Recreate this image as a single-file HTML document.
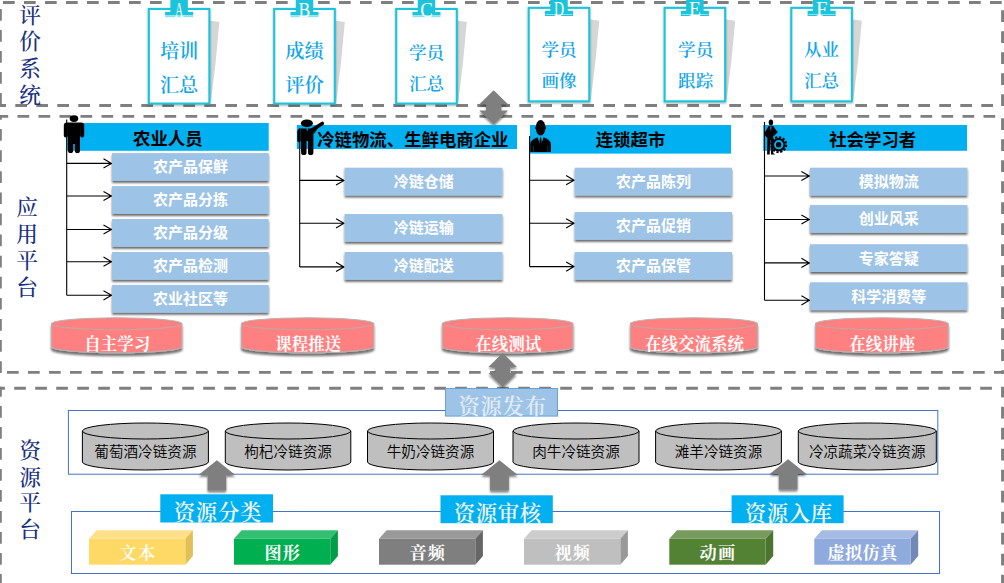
<!DOCTYPE html>
<html lang="zh-CN"><head><meta charset="utf-8"><title>冷链资源平台架构</title>
<style>
html,body{margin:0;padding:0;background:#fff;}
body{width:1004px;height:583px;overflow:hidden;}
svg{display:block;}
.sans{font-family:"Liberation Sans", "Noto Sans CJK SC", sans-serif;}
.serif{font-family:"Liberation Serif", "Noto Serif CJK SC", serif;}
.side{font-size:21.7px;font-weight:500;fill:#17307F;text-anchor:middle;}
.hdr{font-size:17.4px;font-weight:700;fill:#000;}
.sub{font-size:15px;font-weight:700;fill:#fff;text-anchor:middle;}
.cyl{font-size:16.5px;font-weight:700;fill:#fff;text-anchor:middle;}
.res{font-size:14.6px;font-weight:350;fill:#000;text-anchor:middle;}
.lab{font-size:21.3px;font-weight:600;fill:#F4F4F4;text-anchor:middle;}
.cube{font-size:17.2px;font-weight:700;fill:#fff;text-anchor:middle;letter-spacing:1px;}
.card{font-size:17.6px;fill:#12A6EC;text-anchor:middle;}
.tab{font-size:20.5px;fill:#fff;text-anchor:middle;}
</style></head><body>
<svg width="1004" height="583" viewBox="0 0 1004 583">
<defs>
<filter id="shB" x="-10%" y="-20%" width="120%" height="150%"><feGaussianBlur in="SourceAlpha" stdDeviation="1"/><feOffset dx="0" dy="2" result="o"/><feComponentTransfer><feFuncA type="linear" slope="0.6"/></feComponentTransfer><feMerge><feMergeNode/><feMergeNode in="SourceGraphic"/></feMerge></filter>
<filter id="shC" x="-10%" y="-20%" width="120%" height="150%"><feGaussianBlur in="SourceAlpha" stdDeviation="1.3"/><feOffset dx="0" dy="2.5" result="o"/><feComponentTransfer><feFuncA type="linear" slope="0.55"/></feComponentTransfer><feMerge><feMergeNode/><feMergeNode in="SourceGraphic"/></feMerge></filter>
<filter id="shK" x="-15%" y="-10%" width="130%" height="120%"><feGaussianBlur in="SourceAlpha" stdDeviation="1.2"/><feOffset dx="0" dy="0.5" result="o"/><feComponentTransfer><feFuncA type="linear" slope="0.35"/></feComponentTransfer><feMerge><feMergeNode/><feMergeNode in="SourceGraphic"/></feMerge></filter>
<filter id="shA" x="-20%" y="-20%" width="140%" height="140%"><feGaussianBlur in="SourceAlpha" stdDeviation="1.2"/><feOffset dx="0" dy="2" result="o"/><feComponentTransfer><feFuncA type="linear" slope="0.5"/></feComponentTransfer><feMerge><feMergeNode/><feMergeNode in="SourceGraphic"/></feMerge></filter>
</defs>
<line x1="3" y1="2.45" x2="1004" y2="2.45" stroke="#7F7F7F" stroke-width="2.9" stroke-dasharray="11.7 9.3" stroke-dashoffset="0"/>
<line x1="0.35" y1="9" x2="0.35" y2="107" stroke="#7F7F7F" stroke-width="2.9" stroke-dasharray="11.7 9.3" stroke-dashoffset="0"/>
<line x1="1002.55" y1="10.2" x2="1002.55" y2="107" stroke="#7F7F7F" stroke-width="2.9" stroke-dasharray="11.7 9.3" stroke-dashoffset="0"/>
<line x1="-5.7" y1="105.5" x2="1000" y2="105.5" stroke="#7F7F7F" stroke-width="2.9" stroke-dasharray="11.7 9.3" stroke-dashoffset="0"/>
<line x1="-3.5" y1="116.4" x2="996" y2="116.4" stroke="#7F7F7F" stroke-width="2.9" stroke-dasharray="11.7 9.3" stroke-dashoffset="0"/>
<line x1="0.35" y1="115" x2="0.35" y2="373.8" stroke="#7F7F7F" stroke-width="2.9" stroke-dasharray="11.7 9.4" stroke-dashoffset="7"/>
<line x1="1002.55" y1="118.3" x2="1002.55" y2="373.8" stroke="#7F7F7F" stroke-width="2.9" stroke-dasharray="11.7 9.3" stroke-dashoffset="0"/>
<line x1="7" y1="372.4" x2="1004" y2="372.4" stroke="#7F7F7F" stroke-width="2.9" stroke-dasharray="11.7 9.3" stroke-dashoffset="0"/>
<line x1="-6.8" y1="388.3" x2="992" y2="388.3" stroke="#7F7F7F" stroke-width="2.9" stroke-dasharray="11.7 9.3" stroke-dashoffset="0"/>
<line x1="0.35" y1="386.8" x2="0.35" y2="583" stroke="#7F7F7F" stroke-width="2.9" stroke-dasharray="11.7 9.3" stroke-dashoffset="1.8"/>
<line x1="1002.55" y1="386.8" x2="1002.55" y2="583" stroke="#7F7F7F" stroke-width="2.9" stroke-dasharray="11.7 9.3" stroke-dashoffset="1.1"/>
<text class="serif side" x="30" y="22.5">评</text>
<text class="serif side" x="30" y="49.2">价</text>
<text class="serif side" x="30" y="75.9">系</text>
<text class="serif side" x="30" y="102.6">统</text>
<text class="serif side" x="27.1" y="215.2">应</text>
<text class="serif side" x="27.1" y="241.9">用</text>
<text class="serif side" x="27.1" y="268.3">平</text>
<text class="serif side" x="27.1" y="295">台</text>
<text class="serif side" x="30" y="458.1">资</text>
<text class="serif side" x="30" y="484.6">源</text>
<text class="serif side" x="30" y="510.4">平</text>
<text class="serif side" x="30" y="536.8">台</text>
<polygon points="209.4,20.4 219.4,21.9 215.4,64.6 210.9,101.6 209.4,101.6" fill="#D6D6D6"/>
<rect x="148.85000000000002" y="8.950000000000001" width="60.5" height="94.60" fill="#fff" stroke="#1CC4DB" stroke-width="2.1" filter="url(#shK)"/>
<rect x="170.35" y="0" width="17.5" height="12.9" fill="#1CC4DB"/>
<rect x="165.10" y="11.90" width="28" height="3.4" fill="#1CC4DB"/>
<rect x="165.10" y="15.30" width="28" height="1.9" fill="#8FE2ED"/>
<text class="serif tab" x="179.10" y="16.80" transform="translate(179.10 0) scale(0.56 1) translate(-179.10 0)">A</text>
<text class="serif card" font-weight="600" style="font-size:19.2px" x="179.10" y="58.16">培训</text>
<text class="serif card" font-weight="600" style="font-size:19.2px" x="179.10" y="91.66">汇总</text>
<polygon points="334.8,20.4 344.8,21.9 340.8,64.6 336.3,101.6 334.8,101.6" fill="#D6D6D6"/>
<rect x="274.25" y="8.950000000000001" width="60.5" height="94.60" fill="#fff" stroke="#1CC4DB" stroke-width="2.1" filter="url(#shK)"/>
<rect x="295.75" y="0" width="17.5" height="12.9" fill="#1CC4DB"/>
<rect x="290.50" y="11.90" width="28" height="3.4" fill="#1CC4DB"/>
<rect x="290.50" y="15.30" width="28" height="1.9" fill="#8FE2ED"/>
<text class="serif tab" x="304.50" y="16.80" transform="translate(304.50 0) scale(0.86 1) translate(-304.50 0)">B</text>
<text class="serif card" font-weight="600" style="font-size:19.2px" x="304.50" y="58.16">成绩</text>
<text class="serif card" font-weight="600" style="font-size:19.2px" x="304.50" y="91.66">评价</text>
<polygon points="456.8,20.4 466.8,21.9 462.8,64.6 458.3,101.6 456.8,101.6" fill="#D6D6D6"/>
<rect x="396.25" y="8.950000000000001" width="60.5" height="94.60" fill="#fff" stroke="#1CC4DB" stroke-width="2.1" filter="url(#shK)"/>
<rect x="417.75" y="0" width="17.5" height="12.9" fill="#1CC4DB"/>
<rect x="412.50" y="11.90" width="28" height="3.4" fill="#1CC4DB"/>
<rect x="412.50" y="15.30" width="28" height="1.9" fill="#8FE2ED"/>
<text class="serif tab" x="426.50" y="16.80" transform="translate(426.50 0) scale(0.92 1) translate(-426.50 0)">C</text>
<text class="serif card" font-weight="600" style="font-size:17.6px" x="426.50" y="58.50">学员</text>
<text class="serif card" font-weight="600" style="font-size:17.6px" x="426.50" y="90.10">汇总</text>
<polygon points="589.3000000000001,19.3 599.3000000000001,20.8 595.3000000000001,62.400000000000006 590.8000000000001,99.4 589.3000000000001,99.4" fill="#D6D6D6"/>
<rect x="528.75" y="7.85" width="60.5" height="93.50" fill="#fff" stroke="#1CC4DB" stroke-width="2.1" filter="url(#shK)"/>
<rect x="550.25" y="0" width="17.5" height="11.8" fill="#1CC4DB"/>
<rect x="545.00" y="10.80" width="28" height="3.4" fill="#1CC4DB"/>
<rect x="545.00" y="14.20" width="28" height="1.8" fill="#1CC4DB"/>
<rect x="546.00" y="14.25" width="26" height="0.6" fill="#C9F1F6"/>
<text class="serif tab" x="559.00" y="15.70" transform="translate(559.00 0) scale(0.68 1) translate(-559.00 0)">D</text>
<text class="serif card" font-weight="600" style="font-size:17.6px" x="559.00" y="56.40">学员</text>
<text class="serif card" font-weight="600" style="font-size:17.6px" x="559.00" y="87.00">画像</text>
<polygon points="725.2,19.3 735.2,20.8 731.2,62.400000000000006 726.7,99.4 725.2,99.4" fill="#D6D6D6"/>
<rect x="664.65" y="7.85" width="60.5" height="93.50" fill="#fff" stroke="#1CC4DB" stroke-width="2.1" filter="url(#shK)"/>
<rect x="686.15" y="0" width="17.5" height="11.8" fill="#1CC4DB"/>
<rect x="680.90" y="10.80" width="28" height="3.4" fill="#1CC4DB"/>
<rect x="680.90" y="14.20" width="28" height="1.8" fill="#1CC4DB"/>
<rect x="681.90" y="14.25" width="26" height="0.6" fill="#C9F1F6"/>
<text class="serif tab" x="694.90" y="15.70" transform="translate(694.90 0) scale(0.95 1) translate(-694.90 0)">E</text>
<text class="serif card" font-weight="600" style="font-size:17.6px" x="695.70" y="56.40">学员</text>
<text class="serif card" font-weight="600" style="font-size:17.6px" x="695.70" y="87.00">跟踪</text>
<polygon points="851.9,19.3 861.9,20.8 857.9,62.400000000000006 853.4,99.4 851.9,99.4" fill="#D6D6D6"/>
<rect x="791.3499999999999" y="7.85" width="60.5" height="93.50" fill="#fff" stroke="#1CC4DB" stroke-width="2.1" filter="url(#shK)"/>
<rect x="812.85" y="0" width="17.5" height="11.8" fill="#1CC4DB"/>
<rect x="807.60" y="10.80" width="28" height="3.4" fill="#1CC4DB"/>
<rect x="807.60" y="14.20" width="28" height="1.8" fill="#1CC4DB"/>
<rect x="808.60" y="14.25" width="26" height="0.6" fill="#C9F1F6"/>
<text class="serif tab" x="821.60" y="15.70" transform="translate(821.60 0) scale(1.0 1) translate(-821.60 0)">F</text>
<text class="serif card" font-weight="600" style="font-size:17.6px" x="821.60" y="56.40">从业</text>
<text class="serif card" font-weight="600" style="font-size:17.6px" x="821.60" y="87.00">汇总</text>
<polygon points="493.7,90.3 508.0,104.3 501.3,104.3 501.3,110.6 508.0,110.6 493.7,124.6 479.4,110.6 486.1,110.6 486.1,104.3 479.4,104.3" fill="#7F7F7F" filter="url(#shA)"/>
<rect x="66.6" y="123" width="202.1" height="27.80000000000001" fill="#00B0F0"/>
<text class="sans hdr" text-anchor="middle" x="167.8" y="144.5">农业人员</text>
<line x1="66.7" y1="119.5" x2="66.7" y2="295.3" stroke="#000" stroke-width="1.1"/>
<path d="M66.7 163.4H111.5M103.5 158.8L111.5 163.4L103.5 168.0" fill="none" stroke="#000" stroke-width="1.1"/>
<rect x="112.1" y="153.1" width="156.6" height="27.8" fill="#9DC3E6" filter="url(#shB)"/>
<text class="sans sub" x="190.5" y="172.4">农产品保鲜</text>
<path d="M66.7 196H111.5M103.5 191.4L111.5 196L103.5 200.6" fill="none" stroke="#000" stroke-width="1.1"/>
<rect x="112.1" y="186.1" width="156.6" height="27.8" fill="#9DC3E6" filter="url(#shB)"/>
<text class="sans sub" x="190.5" y="205.4">农产品分拣</text>
<path d="M66.7 229.5H111.5M103.5 224.9L111.5 229.5L103.5 234.1" fill="none" stroke="#000" stroke-width="1.1"/>
<rect x="112.1" y="219.0" width="156.6" height="27.8" fill="#9DC3E6" filter="url(#shB)"/>
<text class="sans sub" x="190.5" y="238.3">农产品分级</text>
<path d="M66.7 261.7H111.5M103.5 257.09999999999997L111.5 261.7L103.5 266.3" fill="none" stroke="#000" stroke-width="1.1"/>
<rect x="112.1" y="252.0" width="156.6" height="27.8" fill="#9DC3E6" filter="url(#shB)"/>
<text class="sans sub" x="190.5" y="271.3">农产品检测</text>
<path d="M66.7 295.3H111.5M103.5 290.7L111.5 295.3L103.5 299.90000000000003" fill="none" stroke="#000" stroke-width="1.1"/>
<rect x="112.1" y="284.9" width="156.6" height="27.8" fill="#9DC3E6" filter="url(#shB)"/>
<text class="sans sub" x="190.5" y="304.2">农业社区等</text>
<rect x="296.8" y="125" width="220.2" height="24" fill="#00B0F0"/>
<text class="sans hdr" text-anchor="start" x="317.2" y="145.8">冷链物流、生鲜电商企业</text>
<line x1="299.7" y1="128" x2="299.7" y2="266.9" stroke="#000" stroke-width="1.1"/>
<path d="M299.7 180.4H344.0M336.0 175.8L344.0 180.4L336.0 185.0" fill="none" stroke="#000" stroke-width="1.1"/>
<rect x="344.6" y="167.7" width="157.89999999999998" height="27.8" fill="#9DC3E6" filter="url(#shB)"/>
<text class="sans sub" x="423.7" y="187.0">冷链仓储</text>
<path d="M299.7 223.3H344.0M336.0 218.70000000000002L344.0 223.3L336.0 227.9" fill="none" stroke="#000" stroke-width="1.1"/>
<rect x="344.6" y="214" width="157.89999999999998" height="27.8" fill="#9DC3E6" filter="url(#shB)"/>
<text class="sans sub" x="423.7" y="233.3">冷链运输</text>
<path d="M299.7 266.9H344.0M336.0 262.29999999999995L344.0 266.9L336.0 271.5" fill="none" stroke="#000" stroke-width="1.1"/>
<rect x="344.6" y="252" width="157.89999999999998" height="27.8" fill="#9DC3E6" filter="url(#shB)"/>
<text class="sans sub" x="423.7" y="271.3">冷链配送</text>
<rect x="530" y="125" width="201" height="28.599999999999994" fill="#00B0F0"/>
<text class="sans hdr" text-anchor="middle" x="630.5" y="146.2">连锁超市</text>
<line x1="529.6" y1="136" x2="529.6" y2="266.6" stroke="#000" stroke-width="1.1"/>
<path d="M529.6 180.2H574.1M566.1 175.6L574.1 180.2L566.1 184.79999999999998" fill="none" stroke="#000" stroke-width="1.1"/>
<rect x="574.7" y="167.7" width="157.29999999999995" height="27.8" fill="#9DC3E6" filter="url(#shB)"/>
<text class="sans sub" x="653.5" y="187.0">农产品陈列</text>
<path d="M529.6 223.3H574.1M566.1 218.70000000000002L574.1 223.3L566.1 227.9" fill="none" stroke="#000" stroke-width="1.1"/>
<rect x="574.7" y="212" width="157.29999999999995" height="27.8" fill="#9DC3E6" filter="url(#shB)"/>
<text class="sans sub" x="653.5" y="231.3">农产品促销</text>
<path d="M529.6 266.6H574.1M566.1 262.0L574.1 266.6L566.1 271.20000000000005" fill="none" stroke="#000" stroke-width="1.1"/>
<rect x="574.7" y="252" width="157.29999999999995" height="27.8" fill="#9DC3E6" filter="url(#shB)"/>
<text class="sans sub" x="653.5" y="271.3">农产品保管</text>
<rect x="763.2" y="125" width="203.79999999999995" height="25.80000000000001" fill="#00B0F0"/>
<text class="sans hdr" text-anchor="middle" x="872.7" y="145.6">社会学习者</text>
<line x1="764.5" y1="122" x2="764.5" y2="300.3" stroke="#000" stroke-width="1.1"/>
<path d="M764.5 176H809.4M801.4 171.4L809.4 176L801.4 180.6" fill="none" stroke="#000" stroke-width="1.1"/>
<rect x="810" y="167.7" width="157.39999999999998" height="27.8" fill="#9DC3E6" filter="url(#shB)"/>
<text class="sans sub" x="888.8" y="187.0">模拟物流</text>
<path d="M764.5 219.5H809.4M801.4 214.9L809.4 219.5L801.4 224.1" fill="none" stroke="#000" stroke-width="1.1"/>
<rect x="810" y="205" width="157.39999999999998" height="27.8" fill="#9DC3E6" filter="url(#shB)"/>
<text class="sans sub" x="888.8" y="224.3">创业风采</text>
<path d="M764.5 262.9H809.4M801.4 258.29999999999995L809.4 262.9L801.4 267.5" fill="none" stroke="#000" stroke-width="1.1"/>
<rect x="810" y="244.2" width="157.39999999999998" height="27.8" fill="#9DC3E6" filter="url(#shB)"/>
<text class="sans sub" x="888.8" y="263.5">专家答疑</text>
<path d="M764.5 300.3H809.4M801.4 295.7L809.4 300.3L801.4 304.90000000000003" fill="none" stroke="#000" stroke-width="1.1"/>
<rect x="810" y="282.3" width="157.39999999999998" height="27.8" fill="#9DC3E6" filter="url(#shB)"/>
<text class="sans sub" x="888.8" y="301.6">科学消费等</text>
<g fill="#000"><ellipse cx="74" cy="118.6" rx="4.3" ry="3.4"/><path d="M66.8 122.4h14.4a3 3 0 0 1 3 3v10a2 2 0 0 1-4.1 0v-9h-0.1v24a2.6 2.6 0 0 1-5.2 0v-13h-1.6v13a2.6 2.6 0 0 1-5.2 0v-24h-0.1v9a2 2 0 0 1-4.1 0v-10a3 3 0 0 1 3-3z"/><rect x="69" y="128" width="10" height="16"/></g>
<g fill="#000"><ellipse cx="306.9" cy="123.3" rx="6" ry="3.9"/><path d="M300.9 128.4H313.4V152.4a2.7 2.7 0 0 1-5.4 0V141h-1.5V152.4a2.7 2.7 0 0 1-5.4 0z"/><path d="M300.4 128.5c-1.9 0.2-3.1 1.5-3.1 3.2v8.8a1.7 1.7 0 0 0 3.4 0v-9z"/><path d="M311.5 130.2L322.3 123.4" stroke="#000" stroke-width="3.6" stroke-linecap="round"/><path d="M313.4 129.5l7-4.5-7 9.5z"/><path d="M306.2 128.4h1.9l-0.95 3.2z" fill="#00B0F0"/></g>
<g fill="#000"><ellipse cx="540.6" cy="127.7" rx="4.8" ry="7.7"/><rect x="535.2" y="126.5" width="10.8" height="3" rx="1.4"/><path d="M530.3 152v-7.5c0-3.5 3-5.5 7.4-7.2l2.9 8.5 2.9-8.5c4.4 1.7 7.4 3.7 7.4 7.2v7.5z"/><path d="M537.9 137.2l2.7 9 2.7-9z" fill="#00B0F0"/><path d="M540 137.6h1.2l0.8 6.5-1.4 2-1.4-2z"/><path d="M533.4 146v6M547.8 146v6" stroke="#0A5F80" stroke-width="0.6"/></g>
<g fill="#000"><ellipse cx="770.9" cy="122.5" rx="2.2" ry="3"/><path d="M768.6 126h4.6l4.5 6.2-3.6 3.6-0.6 0.2v-3l-0.3 5.5v14.5l2 1.6h-4.2l-0.3-14h-0.6l-0.4 14h-2.6l0.3-16.4-3.4-4.2z"/><path d="M770.2 126.4h1.4l-0.7 5.4z" fill="#00B0F0"/><circle cx="778.7" cy="144.7" r="6.7"/><circle cx="778.7" cy="144.7" r="7.5" fill="none" stroke="#000" stroke-width="2" stroke-dasharray="2.3 1.627"/><circle cx="778.7" cy="144.7" r="4.7" fill="#00B0F0"/><circle cx="778.6" cy="144.7" r="2.7"/></g>
<g filter="url(#shC)"><path d="M51.6 323.7A65.15 6 0 0 1 181.9 323.7V346.8A65.15 6 0 0 1 51.6 346.8Z" fill="#FF8080" stroke="#B8B0B0" stroke-width="1.1"/></g>
<path d="M51.6 323.7A65.15 6 0 0 0 181.9 323.7" fill="none" stroke="#BDA9A9" stroke-width="1.1"/>
<text class="serif cyl" x="117.25" y="349.5">自主学习</text>
<g filter="url(#shC)"><path d="M241.5 323.7A66.15 6 0 0 1 373.8 323.7V346.8A66.15 6 0 0 1 241.5 346.8Z" fill="#FF8080" stroke="#B8B0B0" stroke-width="1.1"/></g>
<path d="M241.5 323.7A66.15 6 0 0 0 373.8 323.7" fill="none" stroke="#BDA9A9" stroke-width="1.1"/>
<text class="serif cyl" x="308.15" y="349.5">课程推送</text>
<g filter="url(#shC)"><path d="M442.3 323.7A65.35 6 0 0 1 573 323.7V346.8A65.35 6 0 0 1 442.3 346.8Z" fill="#FF8080" stroke="#B8B0B0" stroke-width="1.1"/></g>
<path d="M442.3 323.7A65.35 6 0 0 0 573 323.7" fill="none" stroke="#BDA9A9" stroke-width="1.1"/>
<text class="serif cyl" x="508.15" y="349.5">在线测试</text>
<g filter="url(#shC)"><path d="M630.4 323.7A63.5 6 0 0 1 757.4 323.7V346.8A63.5 6 0 0 1 630.4 346.8Z" fill="#FF8080" stroke="#B8B0B0" stroke-width="1.1"/></g>
<path d="M630.4 323.7A63.5 6 0 0 0 757.4 323.7" fill="none" stroke="#BDA9A9" stroke-width="1.1"/>
<text class="serif cyl" x="694.4" y="349.5">在线交流系统</text>
<g filter="url(#shC)"><path d="M815.5 323.7A66.35000000000002 6 0 0 1 948.2 323.7V346.8A66.35000000000002 6 0 0 1 815.5 346.8Z" fill="#FF8080" stroke="#B8B0B0" stroke-width="1.1"/></g>
<path d="M815.5 323.7A66.35000000000002 6 0 0 0 948.2 323.7" fill="none" stroke="#BDA9A9" stroke-width="1.1"/>
<text class="serif cyl" x="882.35" y="349.5">在线讲座</text>
<polygon points="502.7,353.0 517.0,367.0 510.3,367.0 510.3,373.0 517.0,373.0 502.7,387.0 488.4,373.0 495.1,373.0 495.1,367.0 488.4,367.0" fill="#7F7F7F" filter="url(#shA)"/>
<rect x="68.4" y="410.5" width="869.4" height="63.7" fill="none" stroke="#4472C4" stroke-width="1"/>
<rect x="71.5" y="511.5" width="868" height="62" fill="none" stroke="#4472C4" stroke-width="1"/>
<path d="M82.4 431A63.0 8 0 0 1 208.4 431V462A63.0 8 0 0 1 82.4 462Z" fill="#BFBFBF" stroke="#000" stroke-width="1"/>
<path d="M82.4 431A63.0 8 0 0 0 208.4 431" fill="none" stroke="#000" stroke-width="1"/>
<text class="sans res" x="145.4" y="457.3">葡萄酒冷链资源</text>
<path d="M225.3 431A62.75 8 0 0 1 350.8 431V462A62.75 8 0 0 1 225.3 462Z" fill="#BFBFBF" stroke="#000" stroke-width="1"/>
<path d="M225.3 431A62.75 8 0 0 0 350.8 431" fill="none" stroke="#000" stroke-width="1"/>
<text class="sans res" x="288.05" y="457.3">枸杞冷链资源</text>
<path d="M367.5 431A63.0 8 0 0 1 493.5 431V462A63.0 8 0 0 1 367.5 462Z" fill="#BFBFBF" stroke="#000" stroke-width="1"/>
<path d="M367.5 431A63.0 8 0 0 0 493.5 431" fill="none" stroke="#000" stroke-width="1"/>
<text class="sans res" x="430.5" y="457.3">牛奶冷链资源</text>
<path d="M513 431A63.0 8 0 0 1 639 431V462A63.0 8 0 0 1 513 462Z" fill="#BFBFBF" stroke="#000" stroke-width="1"/>
<path d="M513 431A63.0 8 0 0 0 639 431" fill="none" stroke="#000" stroke-width="1"/>
<text class="sans res" x="576.0" y="457.3">肉牛冷链资源</text>
<path d="M655.6 431A62.89999999999998 8 0 0 1 781.4 431V462A62.89999999999998 8 0 0 1 655.6 462Z" fill="#BFBFBF" stroke="#000" stroke-width="1"/>
<path d="M655.6 431A62.89999999999998 8 0 0 0 781.4 431" fill="none" stroke="#000" stroke-width="1"/>
<text class="sans res" x="718.5" y="457.3">滩羊冷链资源</text>
<path d="M798.3 431A69.0 8 0 0 1 936.3 431V462A69.0 8 0 0 1 798.3 462Z" fill="#BFBFBF" stroke="#000" stroke-width="1"/>
<path d="M798.3 431A69.0 8 0 0 0 936.3 431" fill="none" stroke="#000" stroke-width="1"/>
<text class="sans res" x="867.3" y="457.3">冷凉蔬菜冷链资源</text>
<polygon points="216.9,460.3 235.3,475.1 226.2,475.1 226.2,490.5 207.6,490.5 207.6,475.1 198.5,475.1" fill="#7F7F7F" filter="url(#shA)"/>
<polygon points="499.5,460.3 517.9,475.1 508.9,475.1 508.9,490.5 490.1,490.5 490.1,475.1 481.1,475.1" fill="#7F7F7F" filter="url(#shA)"/>
<polygon points="788.1,459.3 806.5,473.9 797.5,473.9 797.5,489.6 778.8,489.6 778.8,473.9 769.7,473.9" fill="#7F7F7F" filter="url(#shA)"/>
<rect x="445.5" y="388.5" width="112.0" height="27.600000000000023" fill="#9DC3E6" stroke="#5F9BDA" stroke-width="0.9"/>
<text class="serif lab" fill="#E1EBF6" style="fill:#E1EBF6" x="502.3" y="413.9" textLength="87.5" lengthAdjust="spacing">资源发布</text>
<rect x="160.3" y="494.3" width="112.69999999999999" height="28.19999999999999" fill="#00B0F0" stroke="none" stroke-width="0.9"/>
<text class="serif lab" fill="#F4F4F4" style="fill:#F4F4F4" x="217.5" y="520.0" textLength="87.5" lengthAdjust="spacing">资源分类</text>
<rect x="440.5" y="495.3" width="112.29999999999995" height="27.900000000000034" fill="#00B0F0" stroke="none" stroke-width="0.9"/>
<text class="serif lab" fill="#F4F4F4" style="fill:#F4F4F4" x="497.4" y="520.9" textLength="87.5" lengthAdjust="spacing">资源审核</text>
<rect x="731.6" y="495.3" width="112.0" height="27.900000000000034" fill="#00B0F0" stroke="none" stroke-width="0.9"/>
<text class="serif lab" fill="#F4F4F4" style="fill:#F4F4F4" x="788.4" y="520.9" textLength="87.5" lengthAdjust="spacing">资源入库</text>
<polygon points="89,538.8 96.6,530.1999999999999 192.9,530.1999999999999 185.3,538.8" fill="#FFE08A"/>
<polygon points="185.3,538.8 192.9,530.1999999999999 192.9,556.1 185.3,564.7" fill="#E3BF58"/>
<rect x="89" y="538.8" width="96.3" height="25.90000000000009" fill="#FFD966"/>
<text class="serif cube" style="font-weight:600;letter-spacing:1.6px" x="138.0" y="558.5">文本</text>
<polygon points="234,538.8 241.6,530.1999999999999 337.90000000000003,530.1999999999999 330.3,538.8" fill="#33BF72"/>
<polygon points="330.3,538.8 337.90000000000003,530.1999999999999 337.90000000000003,556.1 330.3,564.7" fill="#009E48"/>
<rect x="234" y="538.8" width="96.3" height="25.90000000000009" fill="#00B050"/>
<text class="serif cube" style="font-weight:700;letter-spacing:1.2px" x="282.8" y="558.5">图形</text>
<polygon points="379,538.8 386.6,530.1999999999999 482.90000000000003,530.1999999999999 475.3,538.8" fill="#999999"/>
<polygon points="475.3,538.8 482.90000000000003,530.1999999999999 482.90000000000003,556.1 475.3,564.7" fill="#666666"/>
<rect x="379" y="538.8" width="96.3" height="25.90000000000009" fill="#7F7F7F"/>
<text class="serif cube" style="font-weight:700;letter-spacing:1.2px" x="427.8" y="558.5">音频</text>
<polygon points="524,538.8 531.6,530.1999999999999 627.9,530.1999999999999 620.3,538.8" fill="#CCCCCC"/>
<polygon points="620.3,538.8 627.9,530.1999999999999 627.9,556.1 620.3,564.7" fill="#999999"/>
<rect x="524" y="538.8" width="96.3" height="25.90000000000009" fill="#BFBFBF"/>
<text class="serif cube" style="font-weight:700;letter-spacing:1.2px" x="572.8" y="558.5">视频</text>
<polygon points="669.3,538.8 676.9,530.1999999999999 773.1999999999999,530.1999999999999 765.5999999999999,538.8" fill="#769B5D"/>
<polygon points="765.5999999999999,538.8 773.1999999999999,530.1999999999999 773.1999999999999,556.1 765.5999999999999,564.7" fill="#4B752F"/>
<rect x="669.3" y="538.8" width="96.3" height="25.90000000000009" fill="#548235"/>
<text class="serif cube" style="font-weight:700;letter-spacing:1.2px" x="718.0" y="558.5">动画</text>
<polygon points="814.3,538.8 821.9,530.1999999999999 918.1999999999999,530.1999999999999 910.5999999999999,538.8" fill="#A5BBE3"/>
<polygon points="910.5999999999999,538.8 918.1999999999999,530.1999999999999 918.1999999999999,556.1 910.5999999999999,564.7" fill="#7288B6"/>
<rect x="814.3" y="538.8" width="96.3" height="25.90000000000009" fill="#8FAADC"/>
<text class="serif cube" style="font-weight:700;letter-spacing:0.3px" x="862.6" y="558.5">虚拟仿真</text>
</svg></body></html>
